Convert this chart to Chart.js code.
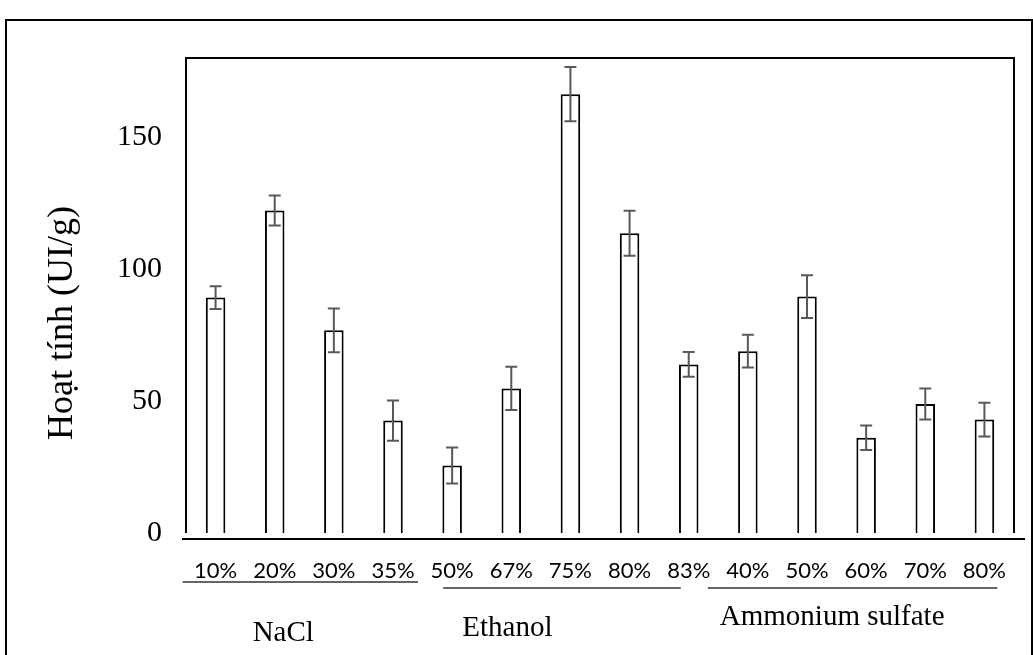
<!DOCTYPE html>
<html>
<head>
<meta charset="utf-8">
<script src="https://cdn.jsdelivr.net/npm/chart.js@4"></script>
<style>
  body { margin: 0; background: #fff; }
  #wrap { position: absolute; left: 0; top: 0; width: 1033px; height: 655px; overflow: hidden; }
  #frame { position: absolute; left: 5px; top: 19px; width: 1024px; height: 700px; border: 2px solid #000; }
  canvas { position: absolute; left: 0; top: 0; }
</style>
</head>
<body>
<div id="wrap">
  <div id="frame"></div>
  <canvas id="activityChart" width="1033" height="655"></canvas>
</div>
<script>
// enzyme activity per precipitant concentration
var concentrations = ['10%', '20%', '30%', '35%', '50%', '67%', '75%', '80%', '83%', '40%', '50%', '60%', '70%', '80%'];
var activity = [89.2, 122.2, 76.8, 42.6, 25.6, 54.8, 166.3, 113.6, 63.9, 68.9, 89.6, 36.1, 48.9, 43.0];
var errors = [4.3, 5.7, 8.3, 7.6, 6.8, 8.2, 10.3, 8.5, 4.7, 6.2, 8.1, 4.6, 5.9, 6.4];
var yTicks = [0, 50, 100, 150];
var groupNames = ['NaCl', 'Ethanol', 'Ammonium sulfate'];
var groupFirst = [0, 4, 9];
var groupLast = [3, 8, 13];
var yTitle = 'Hoạt tính (UI/g)';

// hand placed bits, like in the original Word figure
var underlineOffsets = [[-33, 25, 582], [-9, -8, 588], [-40, 13, 588]];
var nameOffsets = [[-21, 633], [-63, 628], [-34, 617]];

// draws error bars, the plot frame, the group lines and names
var extras = {
    id: 'extras',
    afterDatasetsDraw: function(chart) {
        const ctx = chart.ctx;
        const area = chart.chartArea;
        const xs = chart.scales.x;
        const ys = chart.scales.y;
        ctx.save();

        ctx.strokeStyle = '#595959';
        ctx.lineWidth = 2;
        for (let i = 0; i < activity.length; i++) {
            const cx = xs.getPixelForValue(i);
            const hi = ys.getPixelForValue(activity[i] + errors[i]);
            const lo = ys.getPixelForValue(activity[i] - errors[i]);
            ctx.beginPath();
            ctx.moveTo(cx, hi); ctx.lineTo(cx, lo);
            ctx.moveTo(cx - 6, hi); ctx.lineTo(cx + 6, hi);
            ctx.moveTo(cx - 6, lo); ctx.lineTo(cx + 6, lo);
            ctx.stroke();
        }

        ctx.strokeStyle = '#000';
        ctx.lineWidth = 2;
        ctx.beginPath();
        ctx.moveTo(area.left, area.bottom);
        ctx.lineTo(area.left, area.top);
        ctx.lineTo(area.right, area.top);
        ctx.lineTo(area.right, area.bottom);
        ctx.stroke();

        const base = ys.getPixelForValue(0) + 6;
        ctx.beginPath();
        ctx.moveTo(area.left - 4, base);
        ctx.lineTo(area.right + 11, base);
        ctx.stroke();

        ctx.strokeStyle = '#333';
        ctx.lineWidth = 1.5;
        ctx.fillStyle = '#000';
        ctx.font = '29px "Liberation Serif"';
        ctx.textAlign = 'center';
        ctx.textBaseline = 'middle';
        for (let g = 0; g < groupNames.length; g++) {
            const x1 = xs.getPixelForValue(groupFirst[g]);
            const x2 = xs.getPixelForValue(groupLast[g]);
            const u = underlineOffsets[g];
            ctx.beginPath();
            ctx.moveTo(x1 + u[0], u[2]);
            ctx.lineTo(x2 + u[1], u[2]);
            ctx.stroke();
            const n = nameOffsets[g];
            ctx.fillText(groupNames[g], (x1 + x2) / 2 + n[0], n[1]);
        }

        ctx.translate(72, 440);
        ctx.rotate(-Math.PI / 2);
        ctx.textAlign = 'left';
        ctx.textBaseline = 'alphabetic';
        ctx.font = '36px "Liberation Serif"';
        ctx.fillText(yTitle, 0, 0);
        ctx.restore();
    }
};

const ctx = document.getElementById('activityChart').getContext('2d');
const activityChart = new Chart(ctx, {
    type: 'bar',
    data: {
        labels: concentrations,
        datasets: [{
            data: activity,
            backgroundColor: '#ffffff',
            borderColor: '#000000',
            borderWidth: 2,
            barPercentage: 0.33,
            categoryPercentage: 1
        }]
    },
    options: {
        responsive: false,
        animation: false,
        layout: { padding: { left: 0, top: 58, right: 19, bottom: 0 } },
        plugins: {
            legend: { display: false },
            tooltip: { enabled: false }
        },
        scales: {
            x: {
                grid: { display: false },
                border: { display: false },
                ticks: {
                    color: '#000',
                    font: { family: 'Lato', size: 22 },
                    padding: 17,
                    maxRotation: 0,
                    autoSkip: false
                },
                afterFit: function(scale) { scale.height = 122; }
            },
            y: {
                min: 0,
                max: 180,
                grid: { display: false },
                border: { display: false },
                ticks: {
                    color: '#000',
                    font: { family: 'Liberation Serif', size: 30 },
                    padding: 16
                },
                afterBuildTicks: function(scale) {
                    scale.ticks = yTicks.map(v => ({ value: v }));
                },
                afterFit: function(scale) { scale.width = 186; }
            }
        }
    },
    plugins: [extras]
});
</script>
</body>
</html>
